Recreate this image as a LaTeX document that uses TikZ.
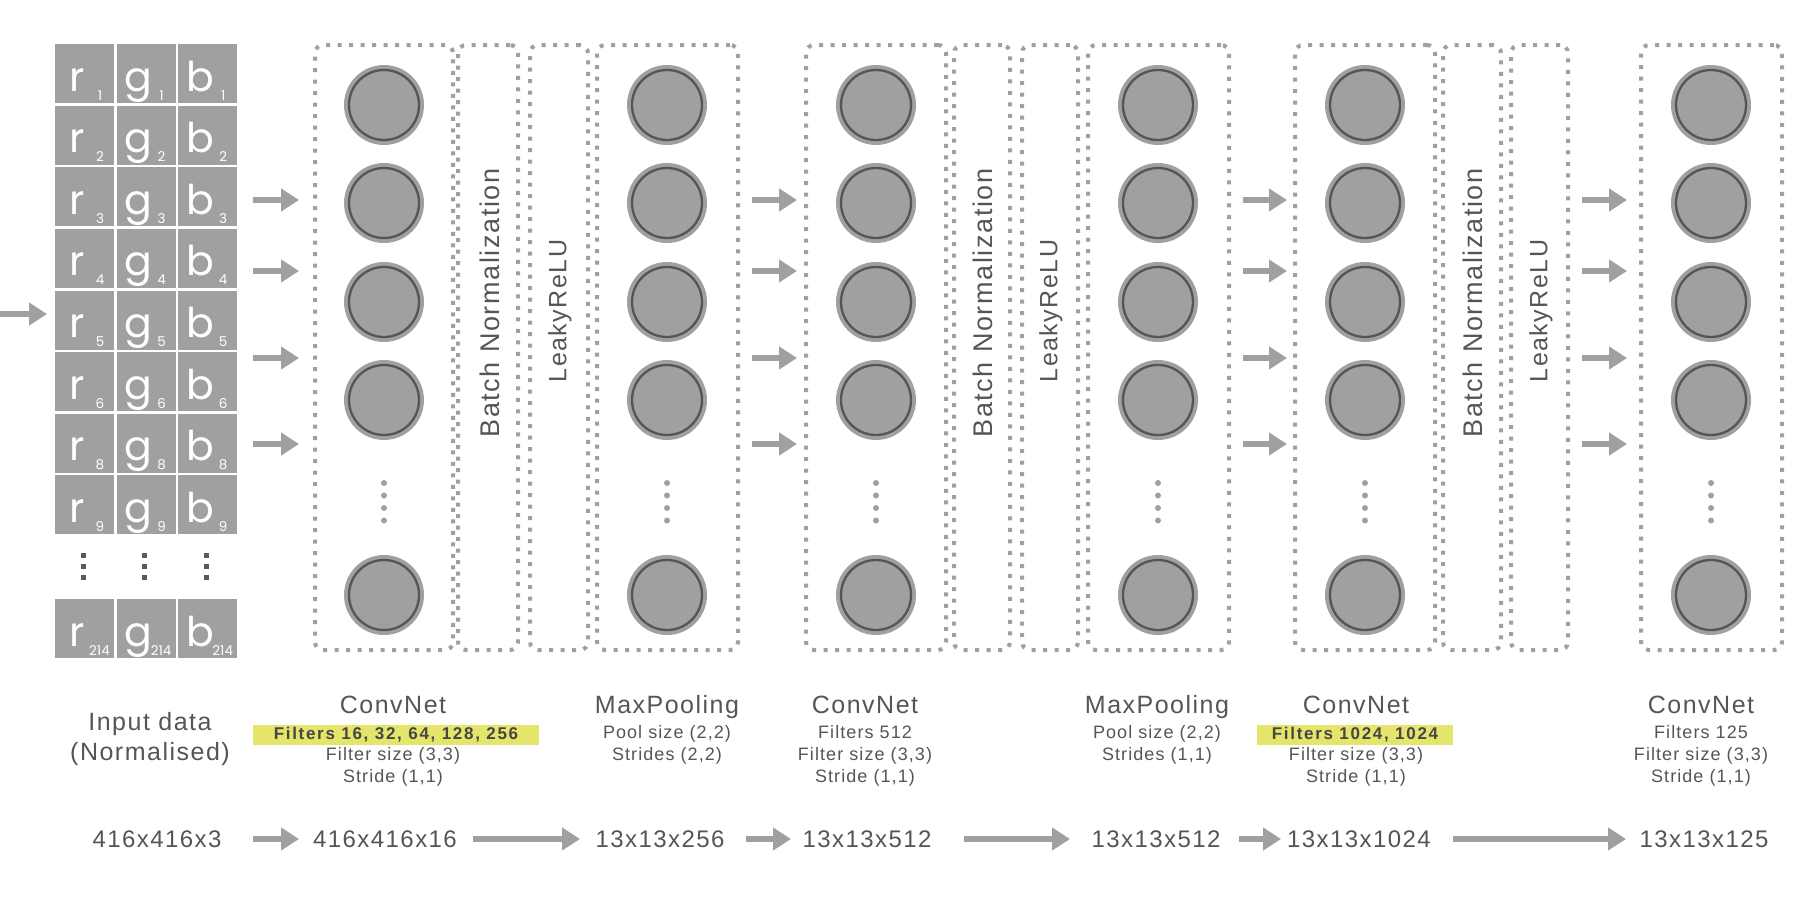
\documentclass[tikz,border=0pt]{standalone}
\usepackage{fontspec}
\usetikzlibrary{arrows.meta}
\setmainfont{Liberation Sans}
\newfontfamily\labfont{Liberation Sans}[LetterSpace=6]
\newfontfamily\hifont{Liberation Sans}[LetterSpace=10]
\newfontfamily\cellfont{Poppins}
\definecolor{cgray}{RGB}{160,160,160}
\definecolor{tgray}{RGB}{85,85,85}
\definecolor{ringc}{RGB}{85,85,85}
\definecolor{hiyel}{RGB}{229,229,107}
\definecolor{dotc}{RGB}{90,90,90}
\newcommand\boxnode[3]{\node[dbox, minimum width={#3-#2}, minimum height=605] (#1) at ({(#2+#3)/2},347.5) {};}
\begin{document}
\begin{tikzpicture}[x=1pt,y=-1pt,
  dbox/.style={draw=cgray, line width=4pt, dash pattern=on 4pt off 7.5pt, rounded corners=8pt, inner sep=0pt},
  neuron/.style={circle, fill=cgray, minimum size=80pt, inner sep=0pt,
     path picture={\draw[ringc, line width=2.3pt] (path picture bounding box.center) circle[radius=35pt];}},
  ndot/.style={circle, fill=cgray, minimum size=6pt, inner sep=0pt},
  gdot/.style={rectangle, fill=dotc, minimum size=5pt, inner sep=0pt},
  cell/.style={rectangle, fill=cgray, minimum width=59pt, minimum height=59pt, inner sep=0pt},
  letter/.style={text=white, font=\cellfont\fontsize{41}{41}\selectfont, inner sep=0pt},
  subl/.style={text=white, font=\cellfont\fontsize{13.5}{14}\selectfont, inner sep=0pt},
  arr/.style={draw=cgray, line width=5.5pt, -{Triangle[length=18pt,width=22pt]}},
  title/.style={text=tgray, font=\labfont\fontsize{25}{30}\selectfont, inner sep=0pt, anchor=base},
  sub/.style={text=tgray, font=\labfont\fontsize{18}{22}\selectfont, inner sep=0pt, anchor=base},
  num/.style={text=tgray, font=\labfont\fontsize{24}{28}\selectfont, inner sep=0pt, anchor=base},
  rot/.style={text=tgray, font=\labfont\fontsize{27}{30}\selectfont, inner sep=0pt, rotate=90},
  rotb/.style={text=tgray, font=\labfont\fontsize{25}{30}\selectfont, inner sep=0pt, rotate=90},
  hilite/.style={fill=hiyel, text={rgb,255:red,70;green,70;blue,70}, font=\hifont\bfseries\fontsize{17}{20}\selectfont, inner sep=0pt, minimum height=20pt}
]
\useasboundingbox (0,0) rectangle (1800,898);

% ---------- input grid ----------
\foreach \lab [count=\i from 0] in {1,2,3,4,5,6,8,9,214} {
  \pgfmathsetmacro\t{ifthenelse(\i<8, 44+61.6*\i, 599)}
  \foreach \L [count=\j from 0] in {r,g,b} {
    \pgfmathsetmacro\l{55+61.6*\j}
    \node[cell, anchor=north west] (cell-\L-\lab) at (\l,\t) {};
    \node[letter, anchor=base] (let-\L-\lab) at (\l+22,\t+47) {\L};
    \ifnum\lab>100
      \node[subl, anchor=base east] (sub-\L-\lab) at (\l+55,\t+56) {\lab};
    \else
      \node[subl, anchor=base] (sub-\L-\lab) at (\l+45,\t+56) {\lab};
    \fi
  }
}
\foreach \j in {0,1,2} {
  \foreach \y [count=\k] in {555,566,577} {
    \node[gdot] (gd-\j-\k) at (55+61.6*\j+28,\y) {};
  }
}

% ---------- boxes ----------
\boxnode{c1}{315}{453}
\boxnode{bn1}{458}{518}
\boxnode{lr1}{530}{588}
\boxnode{mp1}{597}{738}
\boxnode{c2}{806}{946}
\boxnode{bn2}{954}{1010}
\boxnode{lr2}{1022}{1078}
\boxnode{mp2}{1088}{1229}
\boxnode{c3}{1295}{1435}
\boxnode{bn3}{1443}{1501}
\boxnode{lr3}{1511}{1568}
\boxnode{c4}{1641}{1782}

% ---------- neurons ----------
\foreach \nm/\x in {c1/384, mp1/667, c2/876, mp2/1158, c3/1365, c4/1711} {
  \foreach \y [count=\k] in {105,203,302,400,595} {
    \node[neuron] (\nm-n\k) at (\x,\y) {};
  }
  \foreach \y [count=\k] in {483,495.5,508,520.5} {
    \node[ndot] (\nm-d\k) at (\x,\y) {};
  }
}

% ---------- rotated labels ----------
\node[rot] (bn1t) at (490,303) {Batch Normalization};
\node[rotb] (lr1t) at (560,311) {LeakyReLU};
\node[rot] (bn2t) at (983,303) {Batch Normalization};
\node[rotb] (lr2t) at (1051,311) {LeakyReLU};
\node[rot] (bn3t) at (1473,303) {Batch Normalization};
\node[rotb] (lr3t) at (1541,311) {LeakyReLU};

% ---------- arrows between layers ----------
\coordinate (in-s) at (0,314);
\coordinate (in-e) at (47,314);
\draw[arr] (in-s) -- (in-e);
\foreach \g/\xa/\xb in {A/253/299, B/752/797, C/1243/1287, D/1582/1627} {
  \foreach \y [count=\k] in {200,271,358,444} {
    \coordinate (\g s\k) at (\xa,\y);
    \coordinate (\g e\k) at (\xb,\y);
    \draw[arr] (\g s\k) -- (\g e\k);
  }
}

% ---------- captions ----------
\node[title] (inp1) at (150,730) {Input data};
\node[title] (inp2) at (150,760) {(Normalised)};

\node[title] (t1) at (393,713) {ConvNet};
\node[hilite, minimum width=286pt] (h1) at (396,735) {Filters 16, 32, 64, 128, 256};
\node[sub] (t1b) at (393,760) {Filter size (3,3)};
\node[sub] (t1c) at (393,782) {Stride (1,1)};

\node[title] (t2) at (667,713) {MaxPooling};
\node[sub] (t2a) at (667,738) {Pool size (2,2)};
\node[sub] (t2b) at (667,760) {Strides (2,2)};

\node[title] (t3) at (865,713) {ConvNet};
\node[sub] (t3a) at (865,738) {Filters 512};
\node[sub] (t3b) at (865,760) {Filter size (3,3)};
\node[sub] (t3c) at (865,782) {Stride (1,1)};

\node[title] (t4) at (1157,713) {MaxPooling};
\node[sub] (t4a) at (1157,738) {Pool size (2,2)};
\node[sub] (t4b) at (1157,760) {Strides (1,1)};

\node[title] (t5) at (1356,713) {ConvNet};
\node[hilite, minimum width=196pt] (h5) at (1355,735) {Filters 1024, 1024};
\node[sub] (t5b) at (1356,760) {Filter size (3,3)};
\node[sub] (t5c) at (1356,782) {Stride (1,1)};

\node[title] (t6) at (1701,713) {ConvNet};
\node[sub] (t6a) at (1701,738) {Filters 125};
\node[sub] (t6b) at (1701,760) {Filter size (3,3)};
\node[sub] (t6c) at (1701,782) {Stride (1,1)};

% ---------- bottom row ----------
\node[num] (n0) at (157,847) {416x416x3};
\node[num] (n1) at (385,847) {416x416x16};
\node[num] (n2) at (660,847) {13x13x256};
\node[num] (n3) at (867,847) {13x13x512};
\node[num] (n4) at (1156,847) {13x13x512};
\node[num] (n5) at (1359,847) {13x13x1024};
\node[num] (n6) at (1704,847) {13x13x125};
\foreach \k/\xa/\xb in {1/253/299, 2/473/580, 3/746/791, 4/964/1070, 5/1239/1281, 6/1453/1626} {
  \coordinate (b\k s) at (\xa,839);
  \coordinate (b\k e) at (\xb,839);
  \draw[arr] (b\k s) -- (b\k e);
}
\end{tikzpicture}
\end{document}
